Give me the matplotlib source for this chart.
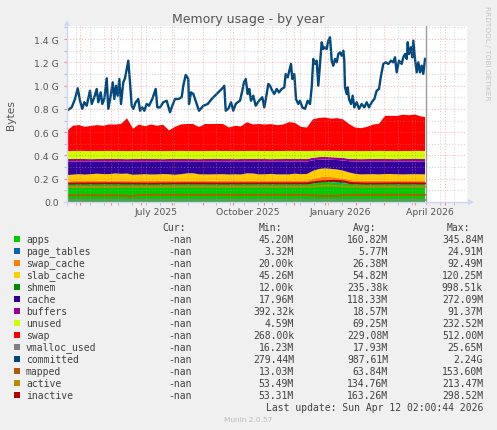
import numpy as np
import matplotlib
matplotlib.use('Agg')
import matplotlib.pyplot as plt
from matplotlib.patches import Rectangle
from matplotlib.lines import Line2D

W, H = 497, 431

def fx(px):
    return px / W

def fy(py):
    return 1 - py / H

# ---- data (GiB), x = days since first sample ----
start = np.datetime64('2025-04-18T08:00')

days = [0, 6, 12, 18, 24, 30, 36, 42, 48, 54, 60, 66, 72, 78, 84, 90, 96, 102, 108, 114,
        120, 126, 132, 138, 144, 150, 156, 162, 168, 174, 180, 186, 192, 198, 204, 210, 216,
        222, 228, 234, 240, 246, 252, 258, 264, 270, 276, 282, 288, 294, 300, 306, 312, 318,
        324, 330, 336, 342, 348, 354, 358]

apps = [0.148, 0.150, 0.152, 0.150, 0.151, 0.149, 0.152, 0.150, 0.151, 0.153, 0.150,
        0.149, 0.151, 0.152, 0.150, 0.151, 0.153, 0.152, 0.150, 0.151, 0.152,
        0.153, 0.151, 0.150, 0.152, 0.153, 0.151, 0.150, 0.152, 0.151, 0.153,
        0.152, 0.150, 0.151, 0.153, 0.152, 0.151, 0.150, 0.152, 0.153, 0.151,
        0.160, 0.168, 0.172, 0.170, 0.166, 0.162, 0.158, 0.153, 0.151, 0.152,
        0.150, 0.151, 0.153, 0.152, 0.151, 0.150, 0.152, 0.151, 0.150, 0.151]
page_tables = [0.005, 0.005, 0.005, 0.006, 0.005, 0.005, 0.006, 0.005, 0.005, 0.006, 0.005,
               0.005, 0.005, 0.006, 0.005, 0.005, 0.006, 0.005, 0.005, 0.006, 0.005,
               0.005, 0.006, 0.005, 0.005, 0.005, 0.006, 0.005, 0.005, 0.006, 0.005,
               0.005, 0.005, 0.006, 0.005, 0.005, 0.006, 0.005, 0.005, 0.005, 0.006,
               0.009, 0.011, 0.012, 0.011, 0.010, 0.009, 0.007, 0.006, 0.005, 0.005,
               0.006, 0.005, 0.005, 0.006, 0.005, 0.005, 0.006, 0.005, 0.005, 0.005]
swap_cache = [0.024, 0.025, 0.026, 0.024, 0.025, 0.027, 0.025, 0.024, 0.026, 0.025, 0.028,
              0.025, 0.024, 0.026, 0.025, 0.024, 0.026, 0.025, 0.024, 0.025, 0.026,
              0.025, 0.024, 0.026, 0.025, 0.024, 0.025, 0.026, 0.025, 0.024, 0.026,
              0.025, 0.024, 0.025, 0.026, 0.025, 0.024, 0.025, 0.026, 0.025, 0.026,
              0.030, 0.032, 0.034, 0.033, 0.031, 0.030, 0.027, 0.025, 0.024, 0.025,
              0.026, 0.025, 0.024, 0.025, 0.026, 0.025, 0.024, 0.025, 0.026, 0.025]
slab_cache = [0.054, 0.055, 0.056, 0.055, 0.058, 0.062, 0.057, 0.060, 0.063, 0.058, 0.061,
              0.055, 0.056, 0.055, 0.056, 0.057, 0.055, 0.056, 0.055, 0.057, 0.063,
              0.064, 0.057, 0.056, 0.055, 0.056, 0.057, 0.055, 0.056, 0.055, 0.062,
              0.063, 0.058, 0.056, 0.057, 0.055, 0.056, 0.057, 0.060, 0.056, 0.058,
              0.068, 0.072, 0.070, 0.070, 0.072, 0.068, 0.062, 0.058, 0.057, 0.056,
              0.057, 0.056, 0.058, 0.057, 0.056, 0.057, 0.056, 0.058, 0.057, 0.056]
shmem = [0.0002, 0.0002, 0.0002, 0.0003, 0.0002, 0.0002, 0.0002, 0.0003, 0.0002, 0.0002, 0.0002,
         0.0002, 0.0003, 0.0002, 0.0002, 0.0002, 0.0002, 0.0003, 0.0002, 0.0002, 0.0002,
         0.0002, 0.0002, 0.0003, 0.0002, 0.0002, 0.0002, 0.0002, 0.0003, 0.0002, 0.0002,
         0.0002, 0.0002, 0.0002, 0.0003, 0.0002, 0.0002, 0.0002, 0.0002, 0.0003, 0.0002,
         0.0006, 0.0009, 0.0010, 0.0008, 0.0006, 0.0004, 0.0003, 0.0002, 0.0002, 0.0002,
         0.0002, 0.0003, 0.0002, 0.0002, 0.0002, 0.0002, 0.0003, 0.0002, 0.0002, 0.0002]
cache = [0.116, 0.112, 0.108, 0.112, 0.108, 0.104, 0.107, 0.108, 0.102, 0.105, 0.103,
         0.113, 0.111, 0.108, 0.111, 0.110, 0.107, 0.109, 0.113, 0.108, 0.101,
         0.100, 0.109, 0.110, 0.110, 0.109, 0.108, 0.111, 0.109, 0.111, 0.101,
         0.102, 0.110, 0.109, 0.106, 0.110, 0.110, 0.110, 0.104, 0.108, 0.106,
         0.091, 0.079, 0.076, 0.078, 0.081, 0.087, 0.096, 0.105, 0.110, 0.109,
         0.108, 0.110, 0.107, 0.107, 0.109, 0.110, 0.109, 0.108, 0.109, 0.110]
buffers = [0.022, 0.022, 0.023, 0.022, 0.021, 0.022, 0.022, 0.023, 0.022, 0.022, 0.021,
           0.022, 0.022, 0.023, 0.022, 0.022, 0.021, 0.022, 0.022, 0.023, 0.022,
           0.022, 0.021, 0.022, 0.022, 0.023, 0.022, 0.022, 0.021, 0.022, 0.022,
           0.023, 0.022, 0.022, 0.021, 0.022, 0.022, 0.023, 0.022, 0.022, 0.022,
           0.022, 0.023, 0.022, 0.022, 0.022, 0.022, 0.022, 0.022, 0.021, 0.022,
           0.022, 0.023, 0.022, 0.022, 0.021, 0.022, 0.022, 0.023, 0.022, 0.022]
unused = [0.069, 0.069, 0.069, 0.069, 0.069, 0.069, 0.069, 0.069, 0.069, 0.069, 0.069,
          0.069, 0.069, 0.069, 0.069, 0.069, 0.069, 0.069, 0.069, 0.069, 0.069,
          0.069, 0.069, 0.069, 0.069, 0.069, 0.069, 0.069, 0.069, 0.069, 0.069,
          0.069, 0.069, 0.069, 0.069, 0.069, 0.069, 0.069, 0.069, 0.069, 0.069,
          0.058, 0.054, 0.052, 0.054, 0.056, 0.060, 0.066, 0.069, 0.069, 0.069,
          0.069, 0.069, 0.069, 0.069, 0.069, 0.069, 0.069, 0.069, 0.069, 0.069]
swap = [0.172, 0.217, 0.222, 0.207, 0.217, 0.222, 0.217, 0.227, 0.227, 0.232, 0.282,
        0.192, 0.227, 0.212, 0.227, 0.217, 0.227, 0.177, 0.207, 0.227, 0.232,
        0.232, 0.207, 0.232, 0.232, 0.232, 0.232, 0.202, 0.217, 0.212, 0.247,
        0.227, 0.232, 0.227, 0.232, 0.222, 0.227, 0.247, 0.242, 0.207, 0.202,
        0.272, 0.282, 0.287, 0.277, 0.282, 0.272, 0.232, 0.202, 0.197, 0.207,
        0.227, 0.232, 0.302, 0.302, 0.302, 0.312, 0.307, 0.312, 0.297, 0.292]

committed_days = [0, 4.7, 8, 10.7, 13, 15.3, 17.3, 19.7, 23, 24.7,
                  27.3, 29.7, 31.3, 33.7, 35.3, 37.3, 39.7, 41.3, 43.7, 45.7,
                  47.3, 49, 50.7, 52.3, 54, 56.3, 58, 59.7, 61.3, 63,
                  64.7, 66.3, 68.7, 71.3, 73, 75.3, 77.3, 79.7, 82, 85.3,
                  88.7, 90.3, 93, 96.3, 99.7, 103, 105.3, 108, 111.3, 114.7,
                  116.3, 118.7, 121.3, 122, 124, 126.3, 129.7, 132, 136.3, 140.7,
                  144.7, 149.7, 154.7, 157.3, 158.7, 161.3, 164, 166.3, 168.7, 170.7,
                  173, 175.3, 177, 178.7, 180.7, 182.3, 184, 186.3, 188.7, 192,
                  195.3, 197.3, 199.7, 201.3, 203, 205.3, 207.3, 209.7, 212, 214.7,
                  217.3, 218.7, 220.7, 222.3, 224, 225.3, 227.3, 229, 231.3, 233,
                  235.3, 238, 240.7, 243, 244.7, 246.3, 248, 249.7, 251.3, 253,
                  254.7, 256.3, 258, 259.7, 261.3, 263, 264.7, 266.3, 268, 269.7,
                  271.3, 273, 274.7, 276.3, 277.3, 278, 279.7, 280.7, 282, 284,
                  285.7, 287.3, 289.7, 292, 294.7, 297.3, 299.7, 302, 304.7, 307.3,
                  309.7, 312, 314, 316.3, 318.7, 321.3, 324, 326.3, 328, 329.7,
                  332, 334.7, 336.3, 338, 339.7, 340.7, 342, 344, 345.3, 346.3,
                  348, 349.7, 351.3, 353, 354.7, 356.3, 358]
committed = [0.784, 0.813, 0.885, 0.977, 0.870, 0.800, 0.857, 0.827, 0.956, 0.842,
             0.900, 0.971, 0.857, 0.942, 0.842, 0.885, 1.063, 0.800, 0.913, 1.028,
             0.885, 0.999, 0.913, 1.057, 0.842, 1.028, 1.063, 1.143, 1.214, 1.028,
             0.827, 0.800, 0.857, 0.885, 0.784, 0.813, 0.784, 0.842, 0.827, 0.885,
             0.971, 0.813, 0.813, 0.857, 0.870, 0.771, 0.827, 0.885, 0.885, 0.900,
             0.999, 1.091, 1.057, 0.842, 0.942, 0.928, 0.842, 0.784, 0.827, 0.842,
             0.885, 0.928, 0.971, 0.999, 0.784, 0.800, 0.857, 0.784, 0.842, 0.857,
             0.870, 0.956, 1.028, 1.057, 0.928, 0.971, 0.870, 0.913, 0.827, 0.870,
             0.900, 0.813, 0.928, 1.014, 0.999, 0.956, 0.928, 0.971, 0.942, 0.971,
             0.985, 1.100, 1.071, 1.128, 1.186, 1.057, 1.100, 0.885, 0.842, 0.870,
             0.813, 0.800, 0.870, 0.842, 0.985, 1.229, 1.186, 1.214, 0.999, 1.186,
             1.372, 1.314, 1.329, 1.314, 1.386, 1.415, 1.214, 1.171, 1.229, 1.200,
             1.271, 1.286, 1.257, 1.300, 1.214, 0.985, 0.928, 0.985, 0.885, 0.842,
             0.913, 0.813, 0.857, 0.800, 0.842, 0.813, 0.857, 0.813, 0.857, 0.885,
             0.956, 0.971, 1.085, 1.186, 1.200, 1.186, 1.214, 1.200, 1.243, 1.114,
             1.214, 1.186, 1.243, 1.271, 1.229, 1.372, 1.271, 1.329, 1.243, 1.386,
             1.229, 1.114, 1.200, 1.114, 1.171, 1.100, 1.229]

vmalloc_days = [0, 120, 240, 358]
vmalloc_used = [0.0170, 0.0175, 0.0175, 0.0180]
mapped_days = [0, 20, 40, 58, 61, 66, 72, 90, 120, 150, 180, 210, 240, 250, 258, 270, 280, 300, 330, 358]
mapped = [0.057, 0.058, 0.057, 0.056, 0.049, 0.050, 0.061, 0.062, 0.061, 0.062,
          0.061, 0.062, 0.061, 0.055, 0.052, 0.053, 0.060, 0.061, 0.062, 0.061]
active_days = [0, 60, 120, 180, 240, 260, 280, 320, 358]
active = [0.128, 0.130, 0.132, 0.131, 0.132, 0.140, 0.133, 0.131, 0.132]
inactive_days = [0, 40, 80, 120, 160, 200, 240, 248, 256, 266, 276, 284, 300, 330, 358]
inactive = [0.158, 0.160, 0.158, 0.160, 0.159, 0.160, 0.160, 0.172, 0.178, 0.182,
            0.178, 0.162, 0.158, 0.160, 0.159]

# ---- legend table ----
names = ['apps', 'page_tables', 'swap_cache', 'slab_cache', 'shmem', 'cache', 'buffers',
         'unused', 'swap', 'vmalloc_used', 'committed', 'mapped', 'active', 'inactive']
colors = ['#00CC00', '#0066B3', '#FF8000', '#FFCC00', '#008F00', '#330099', '#990099',
          '#CCFF00', '#FF0000', '#808080', '#00487D', '#B35A00', '#B38F00', '#B30000']
cur = ['-nan', '-nan', '-nan', '-nan', '-nan', '-nan', '-nan',
       '-nan', '-nan', '-nan', '-nan', '-nan', '-nan', '-nan']
mins = ['45.20M', '3.32M', '20.00k', '45.26M', '12.00k', '17.96M', '392.32k',
        '4.59M', '268.00k', '16.23M', '279.44M', '13.03M', '53.49M', '53.31M']
avgs = ['160.82M', '5.77M', '26.38M', '54.82M', '235.38k', '118.33M', '18.57M',
        '69.25M', '229.08M', '17.93M', '987.61M', '63.84M', '134.76M', '163.26M']
maxs = ['345.84M', '24.91M', '92.49M', '120.25M', '998.51k', '272.09M', '91.37M',
        '232.52M', '512.00M', '25.65M', '2.24G', '153.60M', '213.47M', '298.52M']

ytick_vals = [0.0, 0.2, 0.4, 0.6, 0.8, 1.0, 1.2, 1.4]
ytick_labels = ['0.0', '0.2 G', '0.4 G', '0.6 G', '0.8 G', '1.0 G', '1.2 G', '1.4 G']
ytick_minor = [0.1, 0.3, 0.5, 0.7, 0.9, 1.1, 1.3, 1.5]
xlabel_months = ['2025-07', '2025-10', '2026-01', '2026-04']
xlabel_text = ['July 2025', 'October 2025', 'January 2026', 'April 2026']

plt.rcParams['font.family'] = 'DejaVu Sans'
TXT = '#555555'

def to_day(d):
    return (np.datetime64(d, 'm') - start) / np.timedelta64(1, 'D')

fig = plt.figure(figsize=(W / 100, H / 100), dpi=100, facecolor='#F0F0F0')
ax = fig.add_axes([fx(67), fy(203), (467 - 67) / W, (203 - 27) / H])
ax.set_facecolor('white')
ax.set_xlim(0, 400)
ax.set_ylim(0, 1.512)
for s in ax.spines.values():
    s.set_visible(False)

ax.stackplot(days, apps, page_tables, swap_cache, slab_cache, shmem, cache, buffers,
             unused, swap, colors=colors[:9], linewidth=0, zorder=1)
ax.plot(vmalloc_days, vmalloc_used, color=colors[9], lw=1.4, zorder=3)
ax.plot(committed_days, committed, color=colors[10], lw=1.7, zorder=3)
ax.plot(mapped_days, mapped, color=colors[11], lw=1.4, zorder=3)
ax.plot(active_days, active, color=colors[12], lw=1.4, zorder=3)
ax.plot(inactive_days, inactive, color=colors[13], lw=1.4, zorder=3)
ax.axvline(358.7, color='#999999', lw=1.0, zorder=4)

# grid
months = np.arange(np.datetime64('2025-05'), np.datetime64('2026-06'), dtype='datetime64[M]')
month_days = [to_day(m.astype('datetime64[D]')) for m in months]
month_days = [d for d in month_days if 0 < d < 400]
weeks = np.arange(np.datetime64('2025-04-27'), np.datetime64('2026-05-24'), 14)
week_days = [to_day(w) for w in weeks]
week_days = [d for d in week_days if 0 < d < 400 and min(abs(d - m) for m in month_days) > 1.5]

dots = (0, (1, 2))
for y in ytick_minor:
    ax.axhline(y, color='#a0a0a0', alpha=0.5, lw=0.7, ls=dots, zorder=5)
for d in week_days:
    ax.axvline(d, color='#a0a0a0', alpha=0.5, lw=0.7, ls=dots, zorder=5)
for y in ytick_vals[1:]:
    ax.axhline(y, color='#ff5a5a', alpha=0.5, lw=0.7, ls=dots, zorder=5)
for d in month_days:
    ax.axvline(d, color='#ff5a5a', alpha=0.5, lw=0.7, ls=dots, zorder=5)

ax.set_yticks(ytick_vals)
ax.set_yticklabels(ytick_labels)
ax.set_yticks(ytick_minor, minor=True)
ax.set_xticks(month_days)
ax.set_xticklabels([])
ax.set_xticks(week_days, minor=True)
ax.tick_params(axis='both', which='major', length=2, width=0.8, color='#ff8080',
               labelsize=6.7, labelcolor=TXT, pad=4)
ax.tick_params(axis='both', which='minor', length=2, width=0.8, color='#c0c0c0')

for m, t in zip(xlabel_months, xlabel_text):
    m0 = np.datetime64(m, 'M')
    mid = (to_day(m0.astype('datetime64[D]')) + to_day((m0 + 1).astype('datetime64[D]'))) / 2
    ax.text(mid, -0.055, t, transform=ax.get_xaxis_transform(), ha='center', va='center',
            fontsize=6.7, color=TXT)

# axes with arrows
axis_col = '#CFD6F8'
fig.add_artist(Line2D([fx(64), fx(471)], [fy(203), fy(203)], color=axis_col, lw=1.0))
fig.add_artist(Line2D([fx(67), fx(67)], [fy(206), fy(24)], color=axis_col, lw=1.0))
fig.add_artist(Line2D([fx(471)], [fy(203)], marker='>', ms=4, color=axis_col, mew=0))
fig.add_artist(Line2D([fx(67)], [fy(24)], marker='^', ms=4, color=axis_col, mew=0))

fig.text(fx(248), fy(19), 'Memory usage - by year', ha='center', va='center',
         fontsize=9, color=TXT)
fig.text(fx(11), fy(115), 'Bytes', ha='center', va='center', rotation=90,
         fontsize=7.7, color=TXT)
fig.text(fx(487), fy(53), 'RRDTOOL / TOBI OETIKER', ha='center', va='center',
         rotation=270, fontsize=5.3, color='#c4c4c4')

# legend
mono = 'DejaVu Sans Mono'
LTX = '#404040'
fs = 7
fig.text(fx(186), fy(228.5), 'Cur:', ha='right', va='center', family=mono, fontsize=fs, color=LTX)
fig.text(fx(282), fy(228.5), 'Min:', ha='right', va='center', family=mono, fontsize=fs, color=LTX)
fig.text(fx(376), fy(228.5), 'Avg:', ha='right', va='center', family=mono, fontsize=fs, color=LTX)
fig.text(fx(470), fy(228.5), 'Max:', ha='right', va='center', family=mono, fontsize=fs, color=LTX)
for i, name in enumerate(names):
    y = 240 + 12 * i
    fig.add_artist(Rectangle((fx(14), fy(y + 3)), 6 / W, 6 / H, transform=fig.transFigure,
                             facecolor=colors[i], edgecolor='none'))
    fig.text(fx(26), fy(y), name, ha='left', va='center', family=mono, fontsize=fs, color=LTX)
    fig.text(fx(192), fy(y), cur[i], ha='right', va='center', family=mono, fontsize=fs, color=LTX)
    fig.text(fx(294), fy(y), mins[i], ha='right', va='center', family=mono, fontsize=fs, color=LTX)
    fig.text(fx(388), fy(y), avgs[i], ha='right', va='center', family=mono, fontsize=fs, color=LTX)
    fig.text(fx(483), fy(y), maxs[i], ha='right', va='center', family=mono, fontsize=fs, color=LTX)
fig.text(fx(483), fy(408), 'Last update: Sun Apr 12 02:00:44 2026', ha='right', va='center',
         family=mono, fontsize=fs, color=LTX)
fig.text(fx(248), fy(420), 'Munin 2.0.57', ha='center', va='center', fontsize=5.3, color='#bbbbbb')

fig.savefig('out.png', dpi=100, facecolor=fig.get_facecolor())
